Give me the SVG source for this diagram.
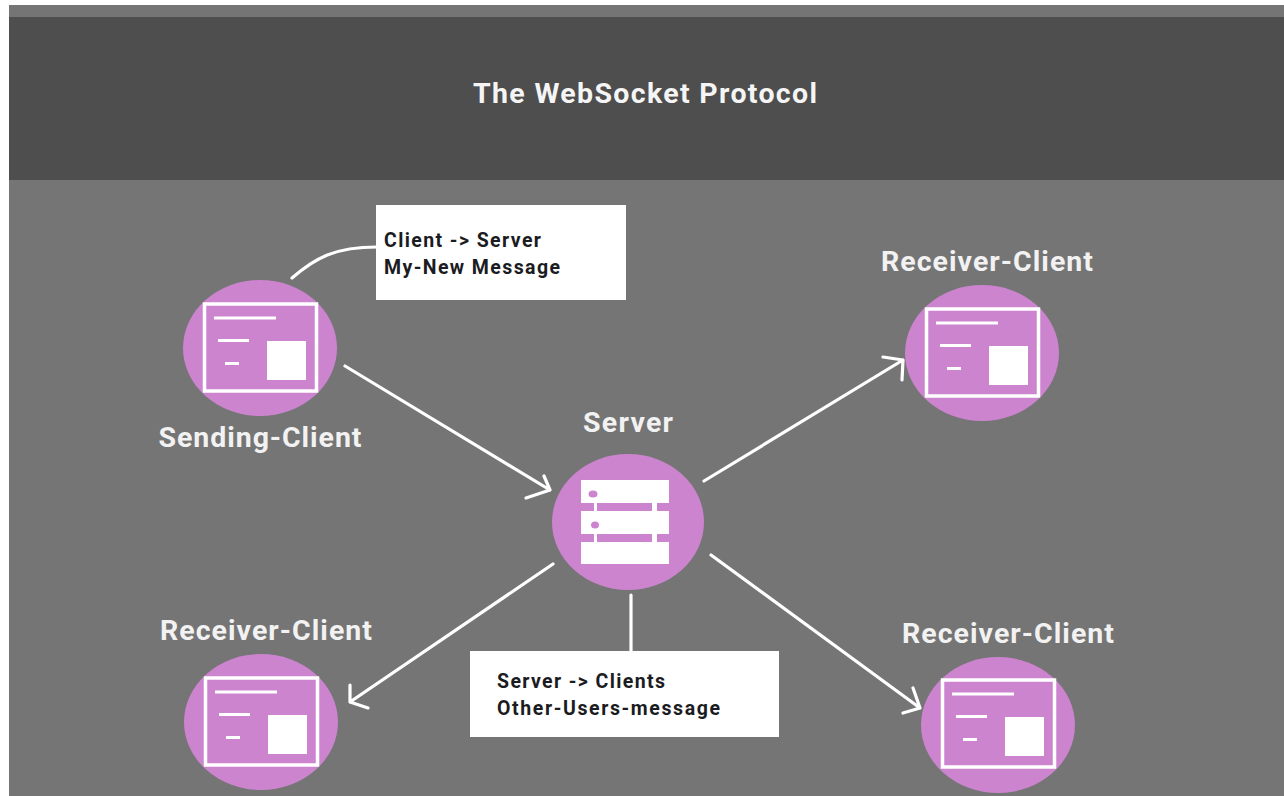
<svg xmlns="http://www.w3.org/2000/svg" width="1284" height="796" viewBox="0 0 1284 796">
<defs>
<style>
text{font-family:Roboto,"Noto Sans",sans-serif;font-weight:700}
.t{fill:#f2f2f2;font-size:28.500px;text-anchor:middle}
.b{fill:#1b1b22;font-size:19.500px;font-weight:700}
.c{fill:#cc84cf}
.w{fill:#fff}
.f{fill:none;stroke:#fff;stroke-width:3.5}
.l{fill:none;stroke:#fff;stroke-width:3.2;stroke-linecap:round;stroke-linejoin:round}
</style>
<g id="win">
<rect class="f" x="-55.500" y="-44" width="112" height="87"/>
<rect class="w" x="-46" y="-31.500" width="62" height="3"/>
<rect class="w" x="-42" y="-9" width="31" height="3"/>
<rect class="w" x="-35" y="14" width="14" height="3"/>
<rect class="w" x="7" y="-7" width="39" height="39"/>
</g>
</defs>
<rect width="1284" height="796" fill="#fff"/>
<rect x="9" y="5" width="1275" height="791" fill="#757575"/>
<rect x="9" y="17" width="1275" height="163" fill="#4e4e4e"/>
<text x="645" y="103" fill="#f5f5f5" font-size="28.500" text-anchor="middle" textLength="344" lengthAdjust="spacing">The WebSocket Protocol</text>
<g id="connectors">
<path class="l" d="M292 278C315 258 335 247 377 247"/>
<path class="l" d="M345 366L550 490M526 498L550 490L544 476"/>
<path class="l" d="M704 481L903 360M883 357L903 360L902 380"/>
<path class="l" d="M553 564L350 702M350 685L350 702L368 708"/>
<path class="l" d="M711 555L920 708M903 713L920 708L913 688"/>
<path class="l" d="M631 595V651"/>
</g>
<g id="note-client">
<rect class="w" x="376" y="205" width="250" height="95"/>
<text class="b" x="384" y="247" textLength="157" lengthAdjust="spacing">Client -&gt; Server</text>
<text class="b" x="384" y="274" textLength="176" lengthAdjust="spacing">My-New Message</text>
</g>
<g id="note-server">
<rect class="w" x="470" y="651" width="309" height="86"/>
<text class="b" x="497" y="687.500" textLength="168" lengthAdjust="spacing">Server -&gt; Clients</text>
<text class="b" x="497" y="714.500" textLength="223" lengthAdjust="spacing">Other-Users-message</text>
</g>
<g id="sending-client">
<ellipse class="c" cx="260" cy="348" rx="77" ry="68"/>
<use href="#win" x="260" y="348"/>
<text class="t" x="260" y="447" textLength="203" lengthAdjust="spacing">Sending-Client</text>
</g>
<g id="receiver-top">
<ellipse class="c" cx="982" cy="353" rx="77" ry="68"/>
<use href="#win" x="982" y="353"/>
<text class="t" x="987" y="271" textLength="212" lengthAdjust="spacing">Receiver-Client</text>
</g>
<g id="receiver-left">
<ellipse class="c" cx="261" cy="722" rx="77" ry="68"/>
<use href="#win" x="261" y="722"/>
<text class="t" x="266" y="640" textLength="212" lengthAdjust="spacing">Receiver-Client</text>
</g>
<g id="receiver-right">
<ellipse class="c" cx="998" cy="725" rx="77" ry="68"/>
<use href="#win" x="998" y="724"/>
<text class="t" x="1008" y="643" textLength="212" lengthAdjust="spacing">Receiver-Client</text>
</g>
<g id="server">
<ellipse class="c" cx="628" cy="522" rx="76" ry="68"/>
<rect class="w" x="581" y="480" width="88" height="23"/>
<rect class="w" x="581" y="511" width="88" height="23"/>
<rect class="w" x="581" y="542" width="88" height="22"/>
<rect class="w" x="594" y="503" width="3" height="8"/>
<rect class="w" x="594" y="534" width="3" height="8"/>
<rect class="w" x="652" y="503" width="5" height="8"/>
<rect class="w" x="652" y="534" width="5" height="8"/>
<ellipse class="c" cx="593" cy="494" rx="4.500" ry="3.500"/>
<ellipse class="c" cx="595" cy="525" rx="4" ry="3.500"/>
<text class="t" x="628" y="432" textLength="90" lengthAdjust="spacing">Server</text>
</g>
</svg>
